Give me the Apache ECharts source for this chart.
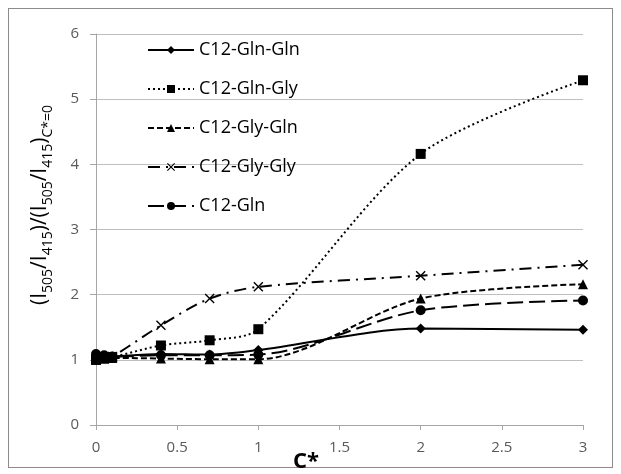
<!DOCTYPE html>
<html>
<head>
<meta charset="utf-8">
<script src="https://cdn.jsdelivr.net/npm/echarts@6/dist/echarts.min.js"></script>
<style>
  html, body { margin: 0; padding: 0; background: #fff; }
  #frame { position: absolute; left: 8px; top: 8px; width: 605px; height: 460px; border: 1px solid #8c8c8c; box-sizing: border-box; }
  #chart { position: absolute; left: 0; top: 0; width: 621px; height: 474px; }
</style>
</head>
<body>
<div id="frame"></div>
<div id="chart"></div>
<script>
// Normalised concentration C*
const cStar = [0, 0.05, 0.1, 0.4, 0.7, 1, 2, 3];

// Intensity ratio (I505/I415) normalised to C* = 0
const glnGln = [1.00, 1.04, 1.05, 1.09, 1.08, 1.15, 1.48, 1.46];
const glnGly = [1.00, 1.02, 1.04, 1.22, 1.30, 1.47, 4.16, 5.29];
const glyGln = [1.00, 1.02, 1.03, 1.02, 1.01, 1.01, 1.94, 2.16];
const glyGly = [1.00, 1.03, 1.05, 1.53, 1.94, 2.12, 2.29, 2.46];
const gln    = [1.09, 1.07, 1.05, 1.07, 1.07, 1.08, 1.76, 1.91];

const seriesNames = ['C12-Gln-Gln', 'C12-Gln-Gly', 'C12-Gly-Gln', 'C12-Gly-Gly', 'C12-Gln'];

const xTicks = ['0', '0.5', '1', '1.5', '2', '2.5', '3'];
const yTicks = ['0', '1', '2', '3', '4', '5', '6'];

const FONT = '"Open Sans", "Liberation Sans", sans-serif';
const crossPath = 'path://M1,0 L5,4 L9,0 L10,1 L6,5 L10,9 L9,10 L5,6 L1,10 L0,9 L4,5 L0,1 Z';

function pairs(ys) { return cStar.map((x, i) => [x, ys[i]]); }

function mkSeries(name, ys, symbol, size, dash) {
  return {
    name: name,
    type: 'line',
    data: pairs(ys),
    smooth: 0.3,
    symbol: symbol,
    symbolSize: size,
    showSymbol: true,
    lineStyle: { color: '#000', width: 2, type: dash },
    itemStyle: { color: '#000', borderWidth: 0 },
    emphasis: { disabled: true },
    z: 3
  };
}

const chart = echarts.init(document.getElementById('chart'), null, { renderer: 'canvas' });
chart.setOption({
  animation: false,
  backgroundColor: 'transparent',
  textStyle: { fontFamily: FONT },
  grid: { left: 96, right: 38, top: 34, bottom: 49 },
  legend: {
    orient: 'vertical',
    left: 142,
    top: 33,
    itemWidth: 46,
    itemHeight: 10,
    itemGap: 15,
    textStyle: { fontFamily: FONT, fontSize: 18, color: '#000', lineHeight: 24 },
    data: seriesNames
  },
  graphic: [
    {
      type: 'text',
      x: 40, y: 205,
      rotation: Math.PI / 2,
      style: {
        text: '{p|(I}{s|505}{p|/I}{s|415}{p|)/(I}{s|505}{p|/I}{s|415}{p|)}{s|C*=0}',
        align: 'center',
        verticalAlign: 'middle',
        rich: {
          p: { fontFamily: FONT, fontSize: 21, fill: '#000', lineHeight: 30, verticalAlign: 'middle' },
          s: { fontFamily: FONT, fontSize: 14, fill: '#000', lineHeight: 30, verticalAlign: 'bottom' }
        }
      }
    },
    {
      type: 'text',
      x: 306, y: 462,
      style: {
        text: 'C*',
        align: 'center',
        verticalAlign: 'middle',
        fontFamily: FONT, fontSize: 22, fontWeight: 'bold', fill: '#000'
      }
    }
  ],
  xAxis: {
    type: 'value',
    min: 0, max: 3, interval: 0.5,
    axisLine: { show: true, lineStyle: { color: '#a6a6a6', width: 1 } },
    axisTick: { show: true, inside: false, length: 5, lineStyle: { color: '#a6a6a6' } },
    axisLabel: { fontFamily: FONT, fontSize: 15, color: '#595959', margin: 15,
      formatter: v => xTicks[Math.round(v / 0.5)] },
    splitLine: { show: false }
  },
  yAxis: {
    type: 'value',
    min: 0, max: 6, interval: 1,
    axisLine: { show: true, lineStyle: { color: '#a6a6a6', width: 1 } },
    axisTick: { show: true, inside: false, length: 6, lineStyle: { color: '#a6a6a6' } },
    axisLabel: { fontFamily: FONT, fontSize: 15, color: '#595959', margin: 17,
      formatter: v => yTicks[Math.round(v)] },
    splitLine: { show: true, lineStyle: { color: '#bfbfbf', width: 1 } }
  },
  series: [
    mkSeries(seriesNames[0], glnGln, 'diamond', 10, 'solid'),
    mkSeries(seriesNames[1], glnGly, 'rect', 10, [2, 3]),
    mkSeries(seriesNames[2], glyGln, 'triangle', 10, [6, 3]),
    mkSeries(seriesNames[3], glyGly, crossPath, 10, [12, 6, 2, 6]),
    mkSeries(seriesNames[4], gln, 'circle', 10, [16, 6])
  ]
});
</script>
</body>
</html>
